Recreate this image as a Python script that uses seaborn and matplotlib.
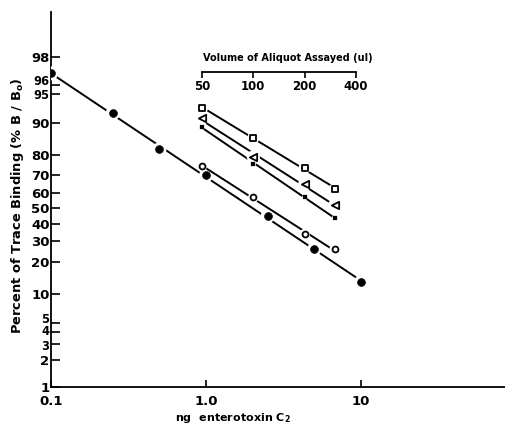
import numpy as np
import pandas as pd
import matplotlib
matplotlib.use("Agg")
import matplotlib.pyplot as plt
import matplotlib.transforms as mtrans
import seaborn as sns
from matplotlib.ticker import NullLocator, FixedLocator, FixedFormatter

# ---- data ----
std_ng = [0.1, 0.25, 0.5, 1.0, 2.5, 5.0, 10.0]
std_pct = [97, 92, 82, 70, 45, 26, 13]

volume_ul = [50, 100, 200, 300]
square_pct = [93, 86, 74, 62]
triangle_pct = [91, 79, 65, 52]
dot_pct = [89, 76, 57, 44]
opencircle_pct = [75, 57, 34, 26]

y_ticks = [1, 2, 3, 4, 5, 10, 20, 30, 40, 50, 60, 70, 80, 90, 95, 96, 98]
crowded = {96: 3, 95: -2, 5: 3, 4: 0, 3: -3}   # label nudges in px
x_ticks = [0.1, 1.0, 10]
x_ticklabels = ["0.1", "1.0", "10"]
top_ticks = [50, 100, 200, 400]

sns.set_style("ticks")
plt.rcParams['font.family'] = ['DejaVu Sans']
plt.rcParams['font.weight'] = 'bold'
plt.rcParams['text.color'] = 'black'
plt.rcParams['axes.edgecolor'] = 'black'
plt.rcParams['xtick.color'] = 'black'
plt.rcParams['ytick.color'] = 'black'
plt.rcParams['axes.labelcolor'] = 'black'

W, H = 505, 426
fig = plt.figure(figsize=(W / 100, H / 100), dpi=100)
ax = fig.add_axes([51 / W, 39 / H, 454 / W, 375 / H])
ax.set_xscale('log')
ax.set_yscale('logit')
ax.set_xlim(0.1, 84.9)
ax.set_ylim(0.01, 0.99365)

ax2 = ax.twiny()
ax2.set_xscale('log')
ax2.set_xlim(6.51, 2991)


def logit(p):
    return np.log(p / (1 - p))


def fit_line(x, pct):
    x = np.asarray(x, float)
    p = np.asarray(pct, float) / 100
    k, b = np.polyfit(np.log10(x), logit(p), 1)
    xs = np.array([x.min(), x.max()])
    ys = 1 / (1 + np.exp(-(k * np.log10(xs) + b)))
    return pd.DataFrame({"x": xs, "y": ys})


def draw_series(axis, x, pct, marker, size, filled, lw_edge=1.3):
    df = pd.DataFrame({"x": x, "y": np.asarray(pct, float) / 100})
    line = fit_line(x, pct)
    sns.lineplot(data=line, x="x", y="y", ax=axis, color="black", lw=1.4,
                 zorder=2, legend=False)
    # white halo to break the line around markers
    sns.scatterplot(data=df, x="x", y="y", ax=axis, marker="o", s=size * 3.2,
                    color="white", edgecolor="none", zorder=3, legend=False)
    if filled:
        sns.scatterplot(data=df, x="x", y="y", ax=axis, marker=marker, s=size,
                        color="black", edgecolor="black", zorder=4, legend=False)
    else:
        sns.scatterplot(data=df, x="x", y="y", ax=axis, marker=marker, s=size,
                        facecolor="white", edgecolor="black", linewidth=lw_edge,
                        zorder=4, legend=False)


draw_series(ax, std_ng, std_pct, "o", 32, True)
draw_series(ax2, volume_ul, square_pct, "s", 24, False)
draw_series(ax2, volume_ul, triangle_pct, "<", 28, False)
draw_series(ax2, volume_ul, dot_pct, "s", 5, True)
draw_series(ax2, volume_ul, opencircle_pct, "o", 18, False)

# ---- main axes styling ----
for s in ["top", "right"]:
    ax.spines[s].set_visible(False)
for s in ["left", "bottom"]:
    ax.spines[s].set_linewidth(1.3)
ax.yaxis.set_major_locator(FixedLocator([v / 100 for v in y_ticks]))
ax.yaxis.set_major_formatter(FixedFormatter(
    ["" if v in crowded else str(v) for v in y_ticks]))
ax.yaxis.set_minor_locator(NullLocator())
ax.xaxis.set_major_locator(FixedLocator(x_ticks))
ax.xaxis.set_major_formatter(FixedFormatter(x_ticklabels))
ax.xaxis.set_minor_locator(NullLocator())
ax.tick_params(axis='y', direction='in', length=6.5, width=1.2, pad=1,
               labelsize=9.5)
ax.tick_params(axis='x', direction='in', length=5, width=1.2, pad=6,
               labelsize=9.5)
for t in ax.get_xticklabels() + ax.get_yticklabels():
    t.set_fontweight('bold')

# crowded tick labels, nudged apart slightly
blend = mtrans.blended_transform_factory(ax.transAxes, ax.transData)
for v, dy in crowded.items():
    tr = blend + mtrans.ScaledTranslation(-1.5 / 100, dy / 100,
                                          fig.dpi_scale_trans)
    ax.text(0, v / 100, str(v), transform=tr, ha="right", va="center",
            fontsize=8.3, fontweight="bold")

ax.set_xlabel("")
ax.set_ylabel("")
ax.text(0.40, -0.083, "ng  enterotoxin C$_\\mathbf{2}$", transform=ax.transAxes,
        ha="center", va="center", fontsize=8, fontweight="bold")
ax.text(-0.073, 0.483, "Percent of Trace Binding (% B / B$_\\mathbf{o}$)",
        transform=ax.transAxes, rotation=90, ha="center", va="center",
        fontsize=9.4, fontweight="bold")

# ---- secondary (volume) axis ----
for s in ["top", "right", "left"]:
    ax2.spines[s].set_visible(False)
ax2.spines["bottom"].set_visible(True)
ax2.spines["bottom"].set_position(("axes", 0.84))
ax2.spines["bottom"].set_bounds(50, 400)
ax2.spines["bottom"].set_linewidth(1.3)
ax2.xaxis.set_ticks_position("bottom")
ax2.xaxis.set_major_locator(FixedLocator(top_ticks))
ax2.xaxis.set_major_formatter(FixedFormatter([str(v) for v in top_ticks]))
ax2.xaxis.set_minor_locator(NullLocator())
ax2.tick_params(axis='x', direction='out', length=4, width=1.2, pad=2,
                labelsize=8.5)
for t in ax2.get_xticklabels():
    t.set_fontweight('bold')
ax2.set_xlabel("")
ax2.set_ylabel("")
ax.text(0.522, 0.877, "Volume of Aliquot Assayed (ul)", transform=ax.transAxes,
        ha="center", va="center", fontsize=7, fontweight="bold")

fig.savefig("out.png", dpi=100)
